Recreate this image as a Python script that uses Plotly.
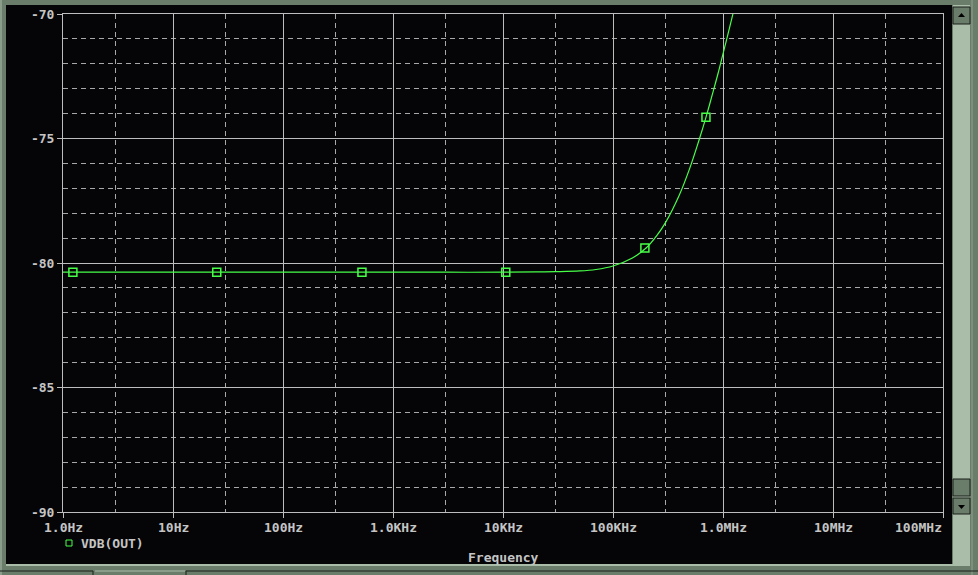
import math
import plotly.graph_objects as go

# ---- data ----
freq_hz = [1, 3, 10, 30, 100, 300, 1e3, 3e3, 1e4, 2e4, 3e4, 5e4, 7e4, 1e5, 1.5e5,
           2e5, 2.5e5, 3e5, 4e5, 5e5, 6e5, 7e5, 8e5, 9e5, 1e6, 1.1e6, 1.2e6, 1.3e6]
vdb_out = [-80.37, -80.37, -80.37, -80.37, -80.37, -80.37, -80.37, -80.37, -80.37, -80.36,
           -80.35, -80.32, -80.26, -80.12, -79.80, -79.40, -78.90, -78.38, -77.28, -76.18,
           -75.12, -74.15, -73.23, -72.40, -71.60, -70.88, -70.20, -69.55]
marker_freq = [1.23, 25, 522, 1.06e4, 1.95e5, 7.0e5]
marker_vdb = [-80.37, -80.37, -80.37, -80.37, -79.40, -74.15]

x_tickvals = [1, 10, 100, 1e3, 1e4, 1e5, 1e6, 1e7, 1e8]
x_ticktext = ["1.0Hz", "10Hz", "100Hz", "1.0KHz", "10KHz", "100KHz", "1.0MHz", "10MHz", "100MHz"]
x_minorvals = [3, 30, 300, 3e3, 3e4, 3e5, 3e6, 3e7]
y_tickvals = [-90, -85, -80, -75, -70]
y_ticktext = ["-90", "-85", "-80", "-75", "-70"]

series_name = "VDB(OUT)"
x_title = "Frequency"

# ---- styling ----
W, H = 978, 575
L, R, T, B = 63, 943, 14, 512
GREEN = "#48ff48"
GRID = "#bdbdbd"
TXT = "#c4c4c4"
FRAME = "#6a7c6a"
LIGHT = "#a9bda9"
DARK = "#1a1f1a"
BLACK = "#050508"
FONT = "DejaVu Sans Mono"
TFONT = dict(family=FONT, size=13, color=TXT, weight="bold")


def px(x):
    return (x - L) / (R - L)


def py(y):
    return (B - y) / (B - T)


fig = go.Figure()
fig.add_trace(go.Scatter(x=freq_hz, y=vdb_out, mode="lines", line=dict(color=GREEN, width=1.2, shape="spline"),
                         hoverinfo="skip", showlegend=False))
fig.add_trace(go.Scatter(x=marker_freq, y=marker_vdb, mode="markers",
                         marker=dict(symbol="square-open", size=8, color=GREEN, line=dict(width=1.5, color=GREEN)),
                         showlegend=False))

shapes = []


def rect(x0, y0, x1, y1, fill, line=None, layer="below"):
    shapes.append(dict(type="rect", xref="paper", yref="paper", x0=px(x0), x1=px(x1), y0=py(y1), y1=py(y0),
                       fillcolor=fill, line=dict(width=0 if line is None else 1, color=line or fill), layer=layer))


def seg(x0, y0, x1, y1, color, width=1, layer="above"):
    shapes.append(dict(type="line", xref="paper", yref="paper", x0=px(x0), x1=px(x1), y0=py(y0), y1=py(y1),
                       line=dict(color=color, width=width), layer=layer))


# window frame
rect(0, 0, 978, 575, FRAME)
seg(1, 0, 1, 575, "#8a9c8a", 2, "below")
rect(6, 5, 952, 564, BLACK)
seg(6, 565, 970, 565, LIGHT, 2, "below")
# scrollbar
rect(953, 5, 970, 565, LIGHT)
seg(972, 0, 972, 575, "#8fa38f", 1, "below")
rect(953, 7, 970, 24, FRAME, DARK, "above")
rect(953, 479, 970, 496, FRAME, DARK, "above")
rect(953, 498, 970, 514, FRAME, DARK, "above")
shapes.append(dict(type="path", xref="paper", yref="paper",
                   path=f"M {px(958)} {py(17)} L {px(965)} {py(17)} L {px(961.5)} {py(13)} Z",
                   fillcolor="black", line=dict(width=0), layer="above"))
shapes.append(dict(type="path", xref="paper", yref="paper",
                   path=f"M {px(958)} {py(505)} L {px(965)} {py(505)} L {px(961.5)} {py(509)} Z",
                   fillcolor="black", line=dict(width=0), layer="above"))
# status bar pieces at bottom
seg(0, 571, 93, 571, DARK, 1, "below")
seg(93, 571, 93, 575, DARK, 1, "below")
seg(95, 571, 185, 571, LIGHT, 1, "below")
seg(186, 571, 978, 571, DARK, 1, "below")
seg(186, 571, 186, 575, DARK, 1, "below")
# legend symbol
rect(66, 540, 72, 546, "rgba(0,0,0,0)", GREEN, "above")

fig.update_layout(shapes=shapes)

fig.add_annotation(x=px(79), y=py(543), xref="paper", yref="paper", text=series_name, showarrow=False,
                   xanchor="left", yanchor="middle", font=TFONT)
fig.add_annotation(x=px(503), y=py(557), xref="paper", yref="paper", text=x_title, showarrow=False,
                   xanchor="center", yanchor="middle", font=TFONT)

# x tick labels (last one right-aligned to the axis end, as in the original)
for i, (v, t) in enumerate(zip(x_tickvals, x_ticktext)):
    last = i == len(x_tickvals) - 1
    fig.add_annotation(x=math.log10(v), y=py(527), xref="x", yref="paper", text=t, showarrow=False,
                       xanchor="right" if last else "center", yanchor="middle", font=TFONT, xshift=1 if last else 0)

axis_common = dict(showline=True, linecolor=GRID, linewidth=1, mirror=True, ticks="outside", ticklen=5,
                   tickcolor=GRID, showgrid=True, gridcolor=GRID, gridwidth=1, zeroline=False,
                   automargin=False, tickfont=TFONT)

fig.update_xaxes(type="log", range=[0, 8], tickmode="array", tickvals=x_tickvals, ticktext=x_ticktext,
                 showticklabels=False,
                 minor=dict(tickmode="array", tickvals=x_minorvals, showgrid=True, gridcolor="#a8a8a8",
                            griddash="5px,4px", gridwidth=1, ticks=""),
                 **axis_common)
fig.update_yaxes(range=[-90, -70], tickmode="array", tickvals=y_tickvals, ticktext=y_ticktext,
                 minor=dict(tickmode="linear", tick0=-90, dtick=1, showgrid=True, gridcolor="#a8a8a8",
                            griddash="5px,4px", gridwidth=1, ticks=""),
                 **axis_common)

fig.update_layout(width=W, height=H, margin=dict(l=L, r=W - R, t=T, b=H - B, pad=0, autoexpand=False),
                  paper_bgcolor=FRAME, plot_bgcolor=BLACK, showlegend=False,
                  font=dict(family=FONT, size=13, color=TXT))

fig.write_html("out.html", config={"displayModeBar": False},
               post_script="document.body.style.margin='0';document.body.style.overflow='hidden';")
